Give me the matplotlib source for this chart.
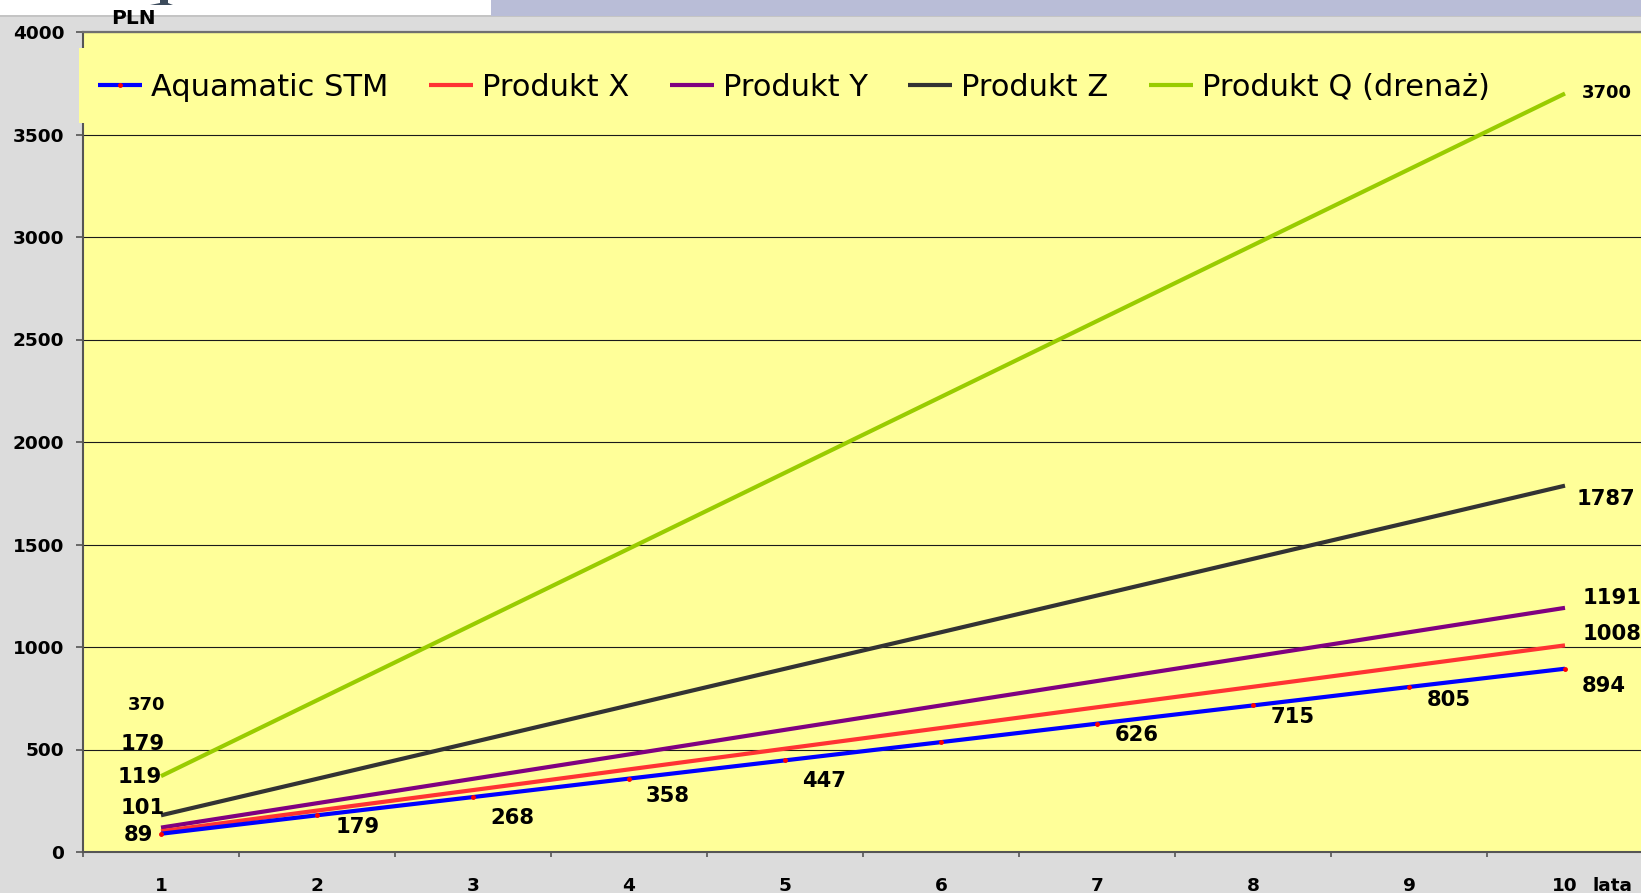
import matplotlib
matplotlib.use("Agg")
import matplotlib.pyplot as plt
from matplotlib.patches import Rectangle, Polygon

# ---------------- data ----------------
years = [1, 2, 3, 4, 5, 6, 7, 8, 9, 10]
x_ticklabels = ["1", "2", "3", "4", "5", "6", "7", "8", "9", "10"]
series_names = ["Aquamatic STM", "Produkt X", "Produkt Y", "Produkt Z", "Produkt Q (drenaż)"]
aquamatic = [89, 179, 268, 358, 447, 536, 626, 715, 805, 894]
produkt_x = [101, 202, 302, 403, 504, 605, 706, 806, 907, 1008]
produkt_y = [119, 238, 357, 476, 596, 715, 834, 953, 1072, 1191]
produkt_z = [179, 357, 536, 715, 894, 1072, 1251, 1430, 1608, 1787]
produkt_q = [370, 740, 1110, 1480, 1850, 2220, 2590, 2960, 3330, 3700]
y_ticks = [0, 500, 1000, 1500, 2000, 2500, 3000, 3500, 4000]
y_label = "PLN"
x_label = "lata"

series_values = [aquamatic, produkt_x, produkt_y, produkt_z, produkt_q]
colors = ["#0000FF", "#FF3333", "#800080", "#333333", "#99CC00"]

# value labels: (series index, point index, dx px, dy px, fontsize)
label_specs = [
    (0, 0, -23, -1, 15.2),
    (0, 1, 41, -12, 15.2), (0, 2, 39, -21, 15.2), (0, 3, 39, -17, 15.2),
    (0, 4, 39, -21, 15.2), (0, 6, 40, -11, 15.2), (0, 7, 40, -12, 15.2),
    (0, 8, 40, -13, 15.2), (0, 9, 39, -17, 15.2),
    (1, 0, -18, 23, 15.2), (1, 9, 47, 11, 15.2),
    (2, 0, -21, 51, 15.2), (2, 9, 47, 10, 15.2),
    (3, 0, -18, 71, 15.2), (3, 9, 41, -13, 15.2),
    (4, 0, -14, 71, 13), (4, 9, 42, 0, 13),
]

# ---------------- figure ----------------
W, H = 1641, 893
fig = plt.figure(figsize=(W / 100, H / 100), dpi=100, facecolor="#DCDCDC")

# top decorative strip
fig.add_artist(Rectangle((0, 1 - 17 / H), 1, 2 / H, transform=fig.transFigure,
                         facecolor="#C4C4C4", edgecolor="none"))
fig.add_artist(Rectangle((0, 1 - 15 / H), 491 / W, 15 / H, transform=fig.transFigure,
                         facecolor="white", edgecolor="none"))
fig.add_artist(Rectangle((491 / W, 1 - 16 / H), 1 - 491 / W, 16 / H, transform=fig.transFigure,
                         facecolor="#B9BDD7", edgecolor="none"))
fig.add_artist(Polygon([(160 / W, 1), (168 / W, 1), (168 / W, 1 - 3 / H), (173 / W, 1 - 5 / H),
                        (150 / W, 1 - 5 / H), (160 / W, 1 - 3 / H)], closed=True,
                       transform=fig.transFigure, facecolor="#3C4B5C", edgecolor="none"))

ax = fig.add_axes([83 / W, 1 - 852 / H, 1560 / W, 820 / H])
ax.set_facecolor("#FFFF99")

handles = []
n = len(series_values)
for i, (name, vals, col) in enumerate(zip(series_names, series_values, colors)):
    if i == 0:
        h, = ax.plot(years, vals, color=col, lw=3, marker="o", ms=2.5,
                     mfc="red", mec="red", label=name, zorder=3 + n - i, solid_capstyle="butt")
    else:
        h, = ax.plot(years, vals, color=col, lw=3, label=name, zorder=3 + n - i,
                     solid_capstyle="butt")
    handles.append(h)

for si, pi, dx, dy, fs in label_specs:
    v = series_values[si][pi]
    ax.annotate(str(v), xy=(years[pi], v), xytext=(dx, dy), textcoords="offset pixels",
                ha="center", va="center", fontsize=fs, fontweight="bold",
                family="DejaVu Sans", zorder=12, annotation_clip=False)

ax.set_xlim(0.5, 10.5)
ax.set_ylim(0, 4000)
ax.set_yticks(y_ticks)
ax.set_yticklabels([str(t) for t in y_ticks], fontsize=13.3, fontweight="bold")
ax.set_xticks([y + 0.5 for y in [0] + years])
ax.set_xticklabels([])
ax.set_xticks(years, minor=True)
ax.set_xticklabels(x_ticklabels, minor=True, fontsize=13.3, fontweight="bold")

ax.tick_params(axis="y", length=5, width=1.2, color="#555555", pad=8.5)
ax.tick_params(axis="x", which="major", length=3.6, width=1.2, color="#555555")
ax.tick_params(axis="x", which="minor", length=0, pad=18)

ax.yaxis.grid(True, color="#1A1A1A", lw=0.8)
ax.set_axisbelow(True)

for s in ["left", "bottom"]:
    ax.spines[s].set_color("#555555")
    ax.spines[s].set_linewidth(1.5)
ax.spines["top"].set_color("#707070")
ax.spines["top"].set_linewidth(1.6)
ax.spines["right"].set_visible(False)

ax.annotate(x_label, xy=(10, 0), xycoords=("data", "axes fraction"), xytext=(47, -39),
            textcoords="offset pixels", ha="center", va="baseline", fontsize=13.3,
            fontweight="bold", annotation_clip=False)
fig.text(133 / W, 1 - 19 / H, y_label, ha="center", va="center", fontsize=14.5, fontweight="bold")

# legend background band
bg = Rectangle((79 / W, 1 - 123 / H), 1 - 79 / W, 75 / H, transform=fig.transFigure,
               facecolor="#FFFF99", edgecolor="none", zorder=2.6)
ax.add_patch(bg)
bg.set_clip_on(False)

leg = ax.legend(handles, series_names, loc="center left", bbox_to_anchor=(98 / W, 1 - 87 / H),
                bbox_transform=fig.transFigure, ncol=5, frameon=False, fontsize=22,
                handlelength=1.45, handletextpad=0.3, columnspacing=1.31, borderpad=0,
                borderaxespad=0, numpoints=1)
leg.set_zorder(20)

fig.savefig("out.png", dpi=100, facecolor=fig.get_facecolor())
